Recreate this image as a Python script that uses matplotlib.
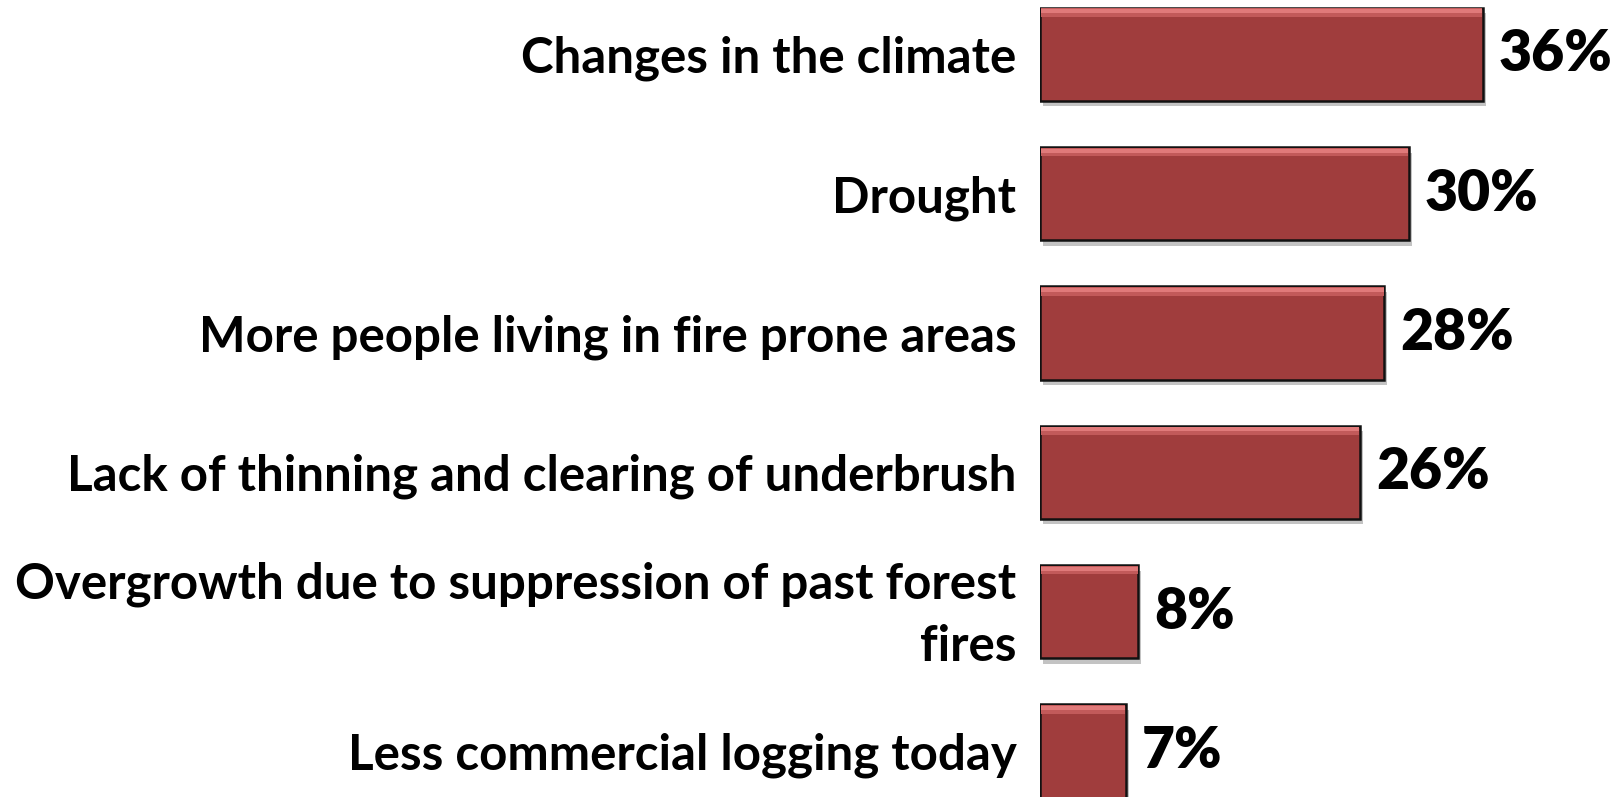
import matplotlib
matplotlib.use("Agg")
import matplotlib.pyplot as plt
import matplotlib.patheffects as pe
import matplotlib.transforms as mtransforms
import numpy as np

categories = [
    "Changes in the climate",
    "Drought",
    "More people living in fire prone areas",
    "Lack of thinning and clearing of underbrush",
    "Overgrowth due to suppression of past forest\nfires",
    "Less commercial logging today",
]
values = [36, 30, 28, 26, 8, 7]
value_labels = ["36%", "30%", "28%", "26%", "8%", "7%"]

plt.rcParams['font.family'] = ['Lato', 'DejaVu Sans']

fig = plt.figure(figsize=(16.24, 7.97), dpi=100)
ax = fig.add_axes([1040 / 1624, 0, 1 - 1040 / 1624, 1])

y = np.arange(len(categories))
bar_h = 0.668
bars = ax.barh(y, values, height=bar_h, color="#A03D3D", edgecolor="#111111",
               linewidth=1.8, zorder=3)
for b in bars:
    b.set_path_effects([pe.SimplePatchShadow(offset=(2, -4), alpha=0.35, shadow_rgbFace="#555555"),
                        pe.Normal()])
# soft bevel highlight along the top edge
ax.barh(y - bar_h / 2 + 0.035, np.array(values) - 0.12, left=0.06, height=0.06,
        color="#C25A5A", linewidth=0, zorder=4)
ax.barh(y - bar_h / 2 + 0.025, np.array(values) - 0.12, left=0.06, height=0.03,
        color="#E07A7A", linewidth=0, zorder=4)

for yi, v, lab in zip(y, values, value_labels):
    ax.text(v + 1.3, yi, lab, va="center", ha="left", fontsize=41,
            fontweight="heavy", color="black")

ax.set_xlim(0, (1624 - 1040) / 12.3)
ax.set_ylim(5.33, -0.39)
ax.set_yticks(y)
ax.set_yticklabels(categories, fontsize=35.5, fontweight="bold", ha="right",
                   linespacing=1.45)
ax.tick_params(axis="y", length=0, pad=17)
ax.set_xticks([])
for s in ax.spines.values():
    s.set_visible(False)

# the two-line label sits a little higher
lbl = ax.get_yticklabels()[4]
lbl.set_transform(lbl.get_transform() +
                  mtransforms.ScaledTranslation(0, 9 / 100, fig.dpi_scale_trans))

fig.savefig("out.png", dpi=100)
